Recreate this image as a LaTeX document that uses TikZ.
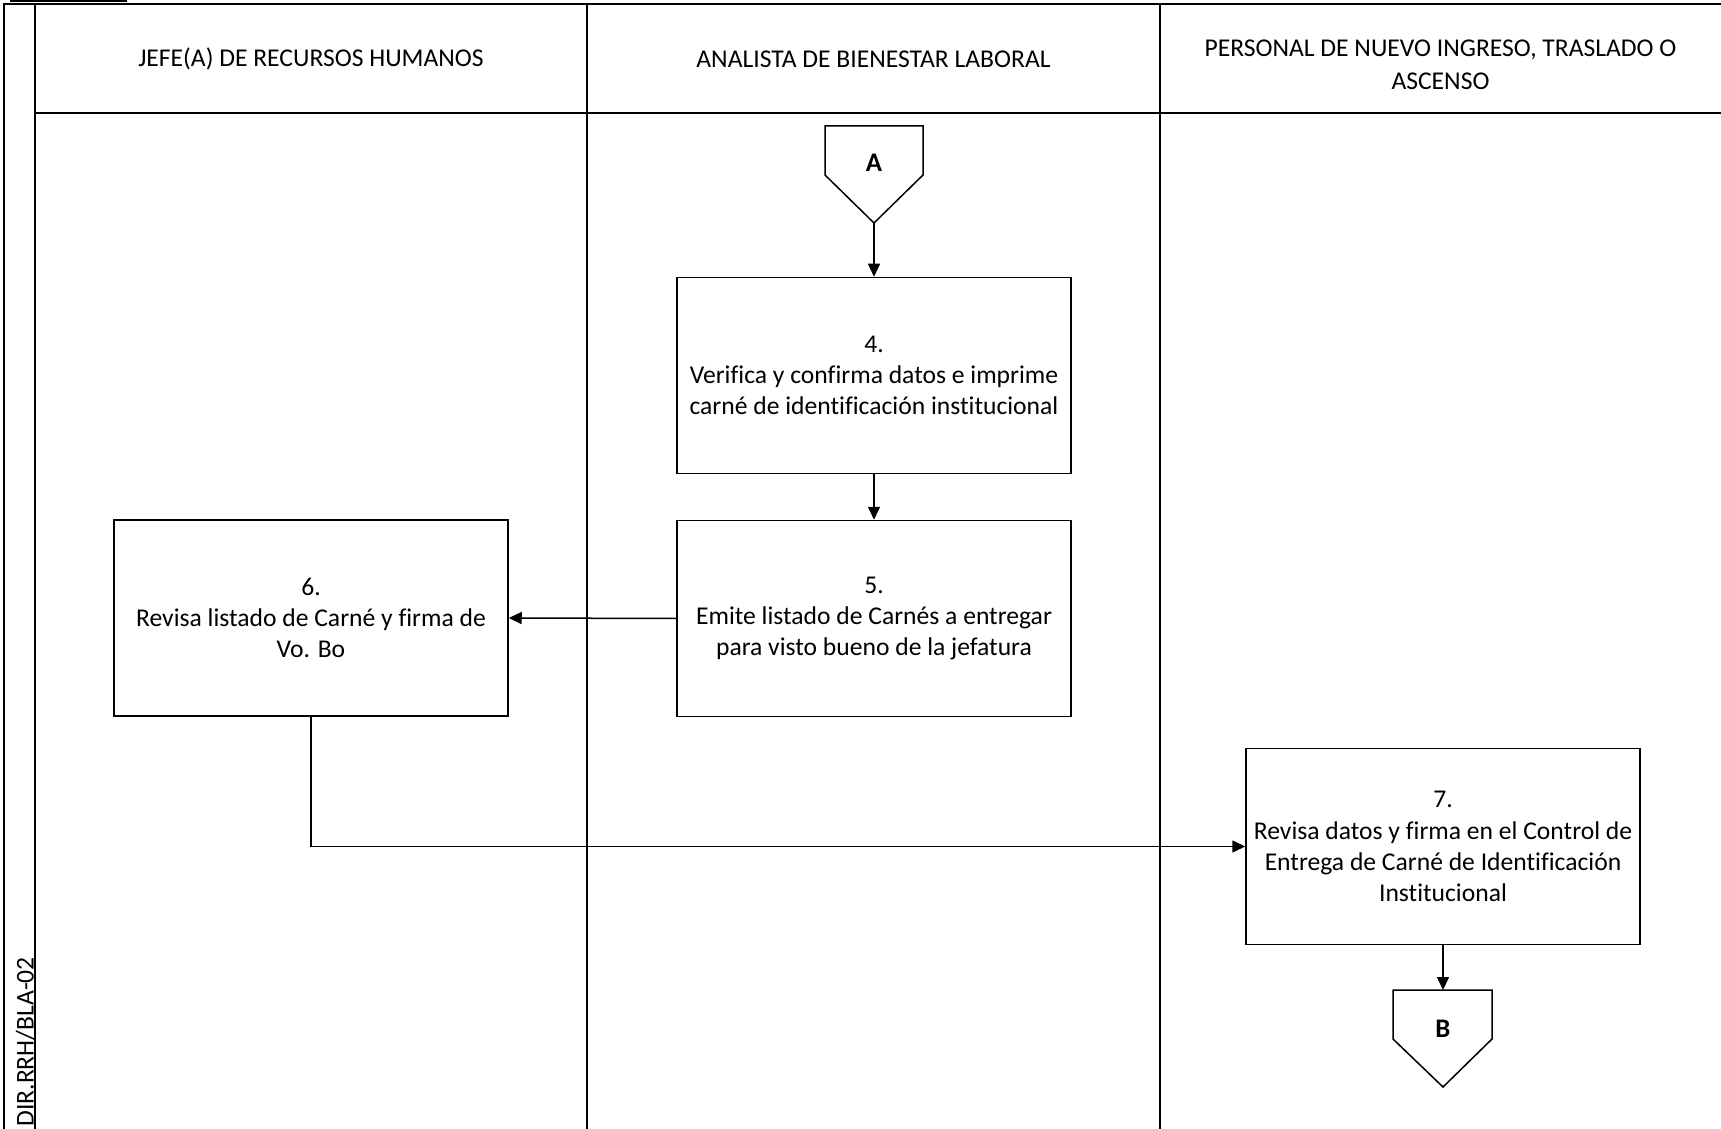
\documentclass[tikz,border=0pt]{standalone}
\usepackage{fontspec}
\setmainfont{Carlito}[Ligatures=CommonOff]
\usetikzlibrary{arrows.meta}
\newcommand\bodysize{\fontsize{12.8}{15.6}\selectfont}
\newcommand\headsize{\fontsize{12.8}{16.6}\selectfont}
\begin{document}
\begin{tikzpicture}[x=0.5pt,y=-0.5pt,
  lane/.style={line width=1pt},
  hdr/.style={align=center, inner sep=0pt, font=\headsize},
  stepbox/.style={draw, line width=0.75pt, minimum width=197pt, minimum height=98pt,
                  align=center, inner sep=0pt, font=\bodysize},
  offpage/.style={draw, line width=0.75pt, line join=miter},
  pagelabel/.style={inner sep=0pt, font=\fontsize{13.4}{16}\selectfont\bfseries},
  link/.style={line width=0.75pt, -{Triangle[length=6.5pt,width=6pt]}}]
\useasboundingbox (0,0) rectangle (1721,1129);

% swimlane frame
\draw[lane] (4,1129) -- (4,4) -- (1721,4);
\draw[lane] (35,4) -- (35,1129);
\draw[lane] (587,4) -- (587,1129);
\draw[lane] (1160,4) -- (1160,1129);
\draw[lane] (35,113) -- (1721,113);
\draw[line width=1.2pt] (10,0.6) -- (127,0.6);

% lane headers
\node[hdr] (h1) at (311,59) {JEFE(A) DE RECURSOS HUMANOS};
\node[hdr] (h2) at (873.5,59) {ANALISTA DE BIENESTAR LABORAL};
\node[hdr] (h3) at (1440.5,65) {PERSONAL DE NUEVO INGRESO, TRASLADO O\\ASCENSO};

% document code along the left strip
\node[rotate=90, anchor=base west, inner sep=0pt, font=\bodysize] (code) at (33.5,1127) {DIR.RRH/BLA-02};

% process steps
\node[stepbox] (s4) at (874,375.5) {4.\\Verifica y confirma datos e imprime\\carné de identificación institucional};
\node[stepbox] (s5) at (874,618.5) {5.\\Emite listado de Carnés a entregar\\para visto bueno de la jefatura};
\node[stepbox] (s6) at (311,618) {6.\\Revisa listado de Carné y firma de\\Vo. Bo};
\node[stepbox] (s7) at (1443,846.5) {7.\\Revisa datos y firma en el Control de\\Entrega de Carné de Identificación\\Institucional};

% off-page connectors
\draw[offpage] (825,126) -- (923,126) -- (923,175) -- (874,223) -- (825,175) -- cycle;
\node[pagelabel] (A) at (874,163) {A};
\coordinate (Atip) at (874,223);

\draw[offpage] (1393,990) -- (1492,990) -- (1492,1039) -- (1443,1087) -- (1393,1039) -- cycle;
\node[pagelabel] (B) at (1443,1029) {B};
\coordinate (Btop) at (1443,990);

% flow
\draw[link] (Atip) -- (s4.north);
\draw[link] (s4.south) -- (s5.north);
\draw[link] (s5.west) -- (s6.east);
\draw[link] (s6.south) |- (s7.west);
\draw[link] (s7.south) -- (Btop);
\end{tikzpicture}
\end{document}
